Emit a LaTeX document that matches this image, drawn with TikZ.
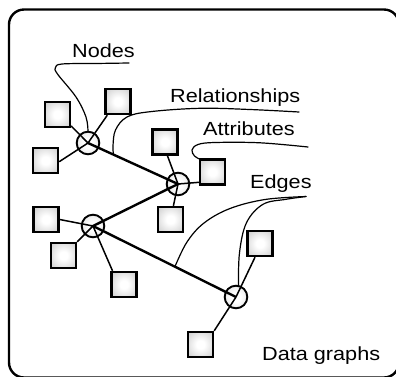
\documentclass[tikz,border=0pt]{standalone}
\usepackage{fontspec}
\setmainfont{Liberation Sans}[FakeStretch=1.14]
\pgfdeclareradialshading{sqshade}{\pgfpoint{0bp}{0bp}}{color(0bp)=(white); color(8bp)=(white); color(50bp)=(black!30); color(100bp)=(black!30)}
\pgfdeclareradialshading{hubshade}{\pgfpoint{0bp}{0bp}}{color(0bp)=(white); color(10bp)=(white); color(50bp)=(black!22); color(100bp)=(black!22)}
\begin{document}
\begin{tikzpicture}[x=1pt,y=-1pt,
  sq/.style={rectangle, minimum size=25pt, inner sep=0pt, draw=black, line width=2.4pt,
    shading=sqshade},
  hubfill/.style={circle, minimum size=23pt, inner sep=0pt, shading=hubshade},
  hubline/.style={line width=1.9pt},
  thick edge/.style={line width=2.4pt},
  thin edge/.style={line width=1.5pt},
  leader/.style={line width=1.2pt, line join=round, line cap=round},
  lbl/.style={font=\fontsize{19}{20}\selectfont, inner sep=0pt, anchor=base west}]
\useasboundingbox (0,0) rectangle (396,376);
\begin{scope}
\clip (0,0) rectangle (396,376);
\draw[line width=2.4pt, rounded corners=15pt] (9,9.5) rectangle (399,377.5);
\end{scope}

% hub fills
\node[hubfill] (H1) at (88,143) {};
\node[hubfill] (H2) at (178,184) {};
\node[hubfill] (H3) at (93,226) {};
\node[hubfill] (H4) at (236,297) {};

% squares (placed for anchors)
\node[sq] (S1) at (57.5,114.5) {};
\node[sq] (S2) at (118,101.5) {};
\node[sq] (S3) at (45.5,160.5) {};
\node[sq] (S4) at (165,142) {};
\node[sq] (S5) at (212.5,172) {};
\node[sq] (S6) at (170.5,219.5) {};
\node[sq] (S7) at (260,243.5) {};
\node[sq] (S8) at (46,219.5) {};
\node[sq] (S9) at (63.5,255.5) {};
\node[sq] (S10) at (124,284.5) {};
\node[sq] (S11) at (200.5,344.5) {};

% edges
\draw[thick edge] (H1.center) -- (H2.center) -- (H3.center) -- (H4.center);
\draw[thin edge] (S1.-40) -- (H1.center);
\draw[thin edge] (S2.-128) -- (H1.center);
\draw[thin edge] (S3.-5) -- (H1.center);
\draw[thin edge] (S4.-80) -- (H2.center);
\draw[thin edge] (S5.217) -- (H2.center);
\draw[thin edge] (S6.78) -- (H2.center);
\draw[thin edge] (S8.east) -- (H3.center);
\draw[thin edge] (S9.45) -- (H3.center);
\draw[thin edge] (S10.130) -- (H3.center);
\draw[thin edge] (S7.250) -- (H4.center);
\draw[thin edge] (S11.45) -- (H4.center);

% redraw squares on top
\foreach \s in {S1,S2,S3,S4,S5,S6,S7,S8,S9,S10,S11}
  \node[sq] at (\s.center) {};

% hub outlines
\foreach \h in {H1,H2,H3,H4}
  \draw[hubline] (\h.center) circle[radius=11.3pt];

% labels
\node[lbl] (tNodes) at (72,57) {Nodes};
\node[lbl] (tRel) at (170,102) {Relationships};
\node[lbl] (tAttr) at (203,135) {Attributes};
\node[lbl] (tEdges) at (250,188) {Edges};
\node[lbl] (tData) at (262,360) {Data graphs};

% leaders
\coordinate (cN) at (129,63);
\coordinate (cR) at (299,112);
\coordinate (cA) at (308,147);
\coordinate (cE) at (306,196.5);
\draw[leader] plot[smooth, tension=0.6] coordinates
  {(cN) (95,63.5) (62,64) (55.5,67.5) (57.5,74) (76,97) (86,117) (88,131.7)};
\draw[leader] plot[smooth, tension=0.6] coordinates
  {(cR) (250,109.5) (200,108.3) (150,111.7) (127,117) (115.5,130) (113,146) (113.5,154)};
\draw[leader] plot[smooth, tension=0.6] coordinates
  {(cA) (260,142.8) (215,142.5) (198,144.5) (192,150) (194.5,156) (199.5,159)};
\draw[leader] plot[smooth, tension=0.6] coordinates
  {(cE) (265,199.5) (230,208.5) (204,223) (187,242) (175,266.5)};
\draw[leader] plot[smooth, tension=0.6] coordinates
  {(cE) (286,199.3) (263,204.3) (246.5,222.7) (239.5,252.7) (238.5,285.8)};
\end{tikzpicture}
\end{document}
